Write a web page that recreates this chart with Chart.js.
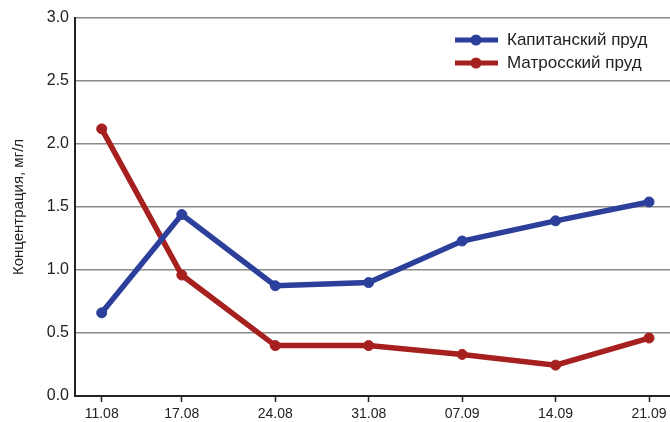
<!DOCTYPE html>
<html>
<head>
<meta charset="utf-8">
<script src="https://cdn.jsdelivr.net/npm/chart.js@4"></script>
<style>
  html, body { margin: 0; padding: 0; background: #fff; }
  #wrap { width: 670px; height: 422px; }
</style>
</head>
<body>
<div id="wrap"><canvas id="myChart"></canvas></div>
<script>
// dates and day offset from 11.08
var dates = ['11.08', '17.08', '24.08', '31.08', '07.09', '14.09', '21.09'];
var days = [0, 6, 13, 20, 27, 34, 41];

var kapitanskiy = [0.66, 1.44, 0.875, 0.90, 1.23, 1.39, 1.54];
var matrosskiy = [2.12, 0.96, 0.40, 0.40, 0.33, 0.245, 0.46];

var yTicks = [0, 0.5, 1.0, 1.5, 2.0, 2.5, 3.0];

var blue = '#2b3f9b';
var red = '#a6201f';

function toPoints(vals) {
    return vals.map(function (v, i) { return { x: days[i], y: v }; });
}

// legend drawn inside the plot, top right
var innerLegend = {
    id: 'innerLegend',
    afterDraw: function (chart) {
        var ctx = chart.ctx;
        var sets = chart.data.datasets;
        ctx.save();
        ctx.font = '17px "Liberation Sans", Arial, sans-serif';
        ctx.textBaseline = 'middle';
        for (var i = 0; i < sets.length; i++) {
            var y = 40 + i * 23;
            ctx.strokeStyle = sets[i].borderColor;
            ctx.lineWidth = 5;
            ctx.beginPath();
            ctx.moveTo(455, y);
            ctx.lineTo(498, y);
            ctx.stroke();
            ctx.fillStyle = sets[i].borderColor;
            ctx.beginPath();
            ctx.arc(476, y, 5.5, 0, Math.PI * 2);
            ctx.fill();
            ctx.fillStyle = '#222';
            ctx.fillText(sets[i].label, 507, y);
        }
        ctx.restore();
    }
};

var ctx = document.getElementById('myChart');
var myChart = new Chart(ctx, {
    type: 'line',
    data: {
        datasets: [{
            label: 'Капитанский пруд',
            data: toPoints(kapitanskiy),
            borderColor: blue,
            backgroundColor: blue,
            borderWidth: 5.5,
            pointRadius: 5,
            pointBorderWidth: 1,
            pointHoverRadius: 5,
            tension: 0
        }, {
            label: 'Матросский пруд',
            data: toPoints(matrosskiy),
            borderColor: red,
            backgroundColor: red,
            borderWidth: 5.5,
            pointRadius: 5,
            pointBorderWidth: 1,
            pointHoverRadius: 5,
            tension: 0
        }]
    },
    plugins: [innerLegend],
    options: {
        responsive: true,
        maintainAspectRatio: false,
        animation: false,
        layout: { autoPadding: false, padding: { top: 18, right: 0, left: 0, bottom: 0 } },
        plugins: {
            legend: { display: false },
            tooltip: { enabled: false }
        },
        scales: {
            x: {
                type: 'linear',
                min: -2.0,
                max: 42.57,
                afterBuildTicks: function (scale) {
                    scale.ticks = days.map(function (d) { return { value: d }; });
                },
                afterFit: function (scale) {
                    scale.height = 26;
                    scale.paddingLeft = 0;
                    scale.paddingRight = 0;
                },
                ticks: {
                    autoSkip: false,
                    maxRotation: 0,
                    padding: 4,
                    color: '#222',
                    font: { size: 14, family: '"Liberation Sans", Arial, sans-serif' },
                    callback: function (value) {
                        var i = days.indexOf(value);
                        return i >= 0 ? dates[i] : '';
                    }
                },
                grid: {
                    drawOnChartArea: false,
                    drawTicks: true,
                    tickLength: 6,
                    tickColor: '#222',
                    tickWidth: 1.5
                },
                border: { color: '#222', width: 2 }
            },
            y: {
                min: 0,
                max: 3,
                afterBuildTicks: function (scale) {
                    scale.ticks = yTicks.map(function (v) { return { value: v }; });
                },
                afterFit: function (scale) { scale.width = 75; },
                ticks: {
                    padding: 6,
                    color: '#222',
                    font: { size: 16, family: '"Liberation Sans", Arial, sans-serif' },
                    callback: function (value) { return value.toFixed(1); }
                },
                grid: {
                    color: '#8a8a8a',
                    lineWidth: 1.5,
                    drawTicks: false
                },
                border: { color: '#222', width: 2 },
                title: {
                    display: true,
                    text: 'Концентрация, мг/л',
                    color: '#222',
                    padding: { top: 10, bottom: 0 },
                    font: { size: 15, family: '"Liberation Sans", Arial, sans-serif' }
                }
            }
        }
    }
});
</script>
</body>
</html>
